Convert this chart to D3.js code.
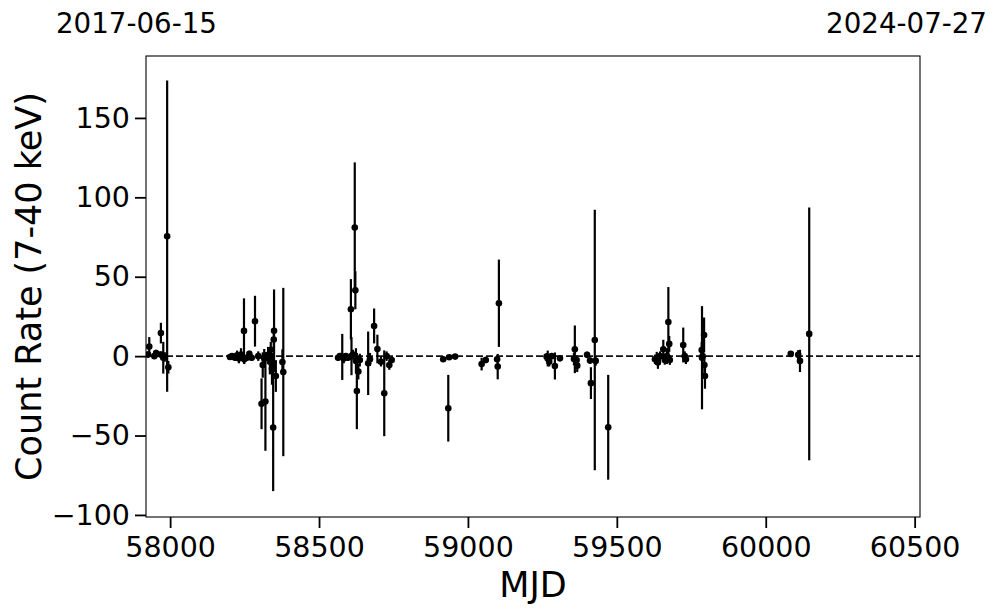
<!DOCTYPE html>
<html>
<head>
<meta charset="utf-8">
<script src="https://cdn.jsdelivr.net/npm/d3@7/dist/d3.min.js"></script>
<style>
  body { margin: 0; background: #fff; }
  svg { display: block; }
  text { font-family: "DejaVu Sans", sans-serif; fill: #000; }
</style>
</head>
<body>
<svg id="chart" width="997" height="613"></svg>
<script>
// ---- data ----
const mjd = [57926,57930,57947,57953,57968,57969,57977,57982,57990,57994,
  58201,58208,58218,58225,58231,58238,58248,58249,58258,58266,58274,58285,58296,58307,58311,58316,58320,58329,58335,58338,58342,58346,58348,58349,58355,58377,58380,
  58564,58570,58578,58583,58590,58597,58607,58609,58614,58620,58622,58624,58627,58632,58637,58665,58671,58685,58696,58708,58719,58727,58736,58744,
  58917,58934,58937,58957,
  59046,59060,59098,59100,59104,
  59264,59268,59273,59281,59292,59309,
  59356,59359,59365,59367,59400,59410,59413,59426,59429,59471,
  59628,59634,59638,59645,59656,59661,59668,59673,59676,59678,59723,59728,59732,59785,59786,59788,59793,59794,59796,
  60084,60109,60115,60146];
const rate = [1,6,0,2,1,14.5,-1,-0.5,75.5,-7,
  -0.5,0,-1,0.5,-1.5,1,15.9,-2,-1,1.4,-1,22,0,-30,-5.6,-1.5,-28.6,0.8,-3.5,4,-8,-45,10.5,16,-12.5,-3.7,-10,
  -1,0,-0.5,-1.5,0,-1,29.5,0,1,81,41.5,-3,-22,-9.7,-2.5,-4.5,-2,19,4.5,-3.5,-23.4,0,-5.6,-2.4,
  -2,-32.8,-0.7,-0.3,
  -5,-2.4,-2,-6.6,33.3,
  -0.3,-1.5,-3.5,0,-6.2,-1.3,
  -1.8,4.3,-2.5,-6,0.8,-2.8,-17,10.2,-3,-44.8,
  -2,-1.3,-4,0,4.3,-2.4,0,21.5,7.7,-2.5,7,0,-2,3.9,-1,0,13.3,-5.6,-12.5,
  1.4,0.8,-3,14];
const err = [2,6,1.5,2,2,6.5,10,3,98,4,
  1,1.5,2,3,3,4,20.5,3,2,2,2,16,3,16,8,6,31,5,8,5,10,40,6,26,10,8,53,
  2,2,14.5,3,2,2,19,12,3,41,12,8,24,5,4,20,4,11,9,3,27,3,3,2,
  1,21,1,1,
  4,2,2,8,27.5,
  2,5,3,2,8.5,2,
  4,15,3,4,2,2,10,82,3,33,
  3,4,4,3,6,3,5,22,5,3,11,3,3,5,32.5,3,11,6,8,
  1.5,3,7,79.6];
const xTicks = [58000, 58500, 59000, 59500, 60000, 60500];
const yTicks = [-100, -50, 0, 50, 100, 150];
const xDomain = [57919, 60518];
const yDomain = [-101.3, 189];
const startDate = "2017-06-15";
const endDate = "2024-07-27";
const xLabel = "MJD";
const yLabel = "Count Rate (7-40 keV)";

// ---- layout ----
const L = 146, R = 920, T = 56, B = 517;
const svg = d3.select("#chart");
const x = d3.scaleLinear().domain(xDomain).range([L, R]);
const y = d3.scaleLinear().domain(yDomain).range([B, T]);

const pts = mjd.map((m, i) => ({ m, r: rate[i], e: err[i] }));

const plot = svg.append("g");
plot.append("defs").append("clipPath").attr("id", "clip")
  .append("rect").attr("x", L).attr("y", T).attr("width", R - L).attr("height", B - T);
const inner = plot.append("g").attr("clip-path", "url(#clip)");

// zero line
inner.append("line")
  .attr("x1", L).attr("x2", R).attr("y1", y(0)).attr("y2", y(0))
  .attr("stroke", "#111").attr("stroke-width", 1.7).attr("stroke-dasharray", "7,3");

// error bars
inner.selectAll("line.eb").data(pts).join("line")
  .attr("class", "eb")
  .attr("x1", d => x(d.m)).attr("x2", d => x(d.m))
  .attr("y1", d => y(d.r - d.e)).attr("y2", d => y(d.r + d.e))
  .attr("stroke", "#000").attr("stroke-width", 2.2);

// points
inner.selectAll("circle").data(pts).join("circle")
  .attr("cx", d => x(d.m)).attr("cy", d => y(d.r)).attr("r", 3.3)
  .attr("fill", "#000");

// frame
svg.append("rect").attr("x", L).attr("y", T).attr("width", R - L).attr("height", B - T)
  .attr("fill", "none").attr("stroke", "#000").attr("stroke-width", 1.1);

// axes
const xAxis = svg.append("g").attr("transform", `translate(0,${B})`)
  .call(d3.axisBottom(x).tickValues(xTicks).tickFormat(d3.format("d")).tickSize(11).tickPadding(9));
const yAxis = svg.append("g").attr("transform", `translate(${L},0)`)
  .call(d3.axisLeft(y).tickValues(yTicks).tickFormat(d3.format("d")).tickSize(11).tickPadding(5));
[xAxis, yAxis].forEach(a => {
  a.select(".domain").remove();
  a.selectAll(".tick line").attr("stroke", "#000").attr("stroke-width", 1.8);
  a.selectAll(".tick text").attr("font-family", "DejaVu Sans").attr("font-size", 28.5).attr("fill", "#000");
});

// labels
svg.append("text").attr("x", (L + R) / 2).attr("y", 597).attr("text-anchor", "middle")
  .attr("font-size", 35).text(xLabel);
svg.append("text").attr("transform", `translate(41,${(T + B) / 2}) rotate(-90)`)
  .attr("text-anchor", "middle").attr("font-size", 35).text(yLabel);

svg.append("text").attr("x", 56).attr("y", 33).attr("font-size", 27.7).text(startDate);
svg.append("text").attr("x", 987).attr("y", 33).attr("text-anchor", "end").attr("font-size", 27.7).text(endDate);
</script>
</body>
</html>
